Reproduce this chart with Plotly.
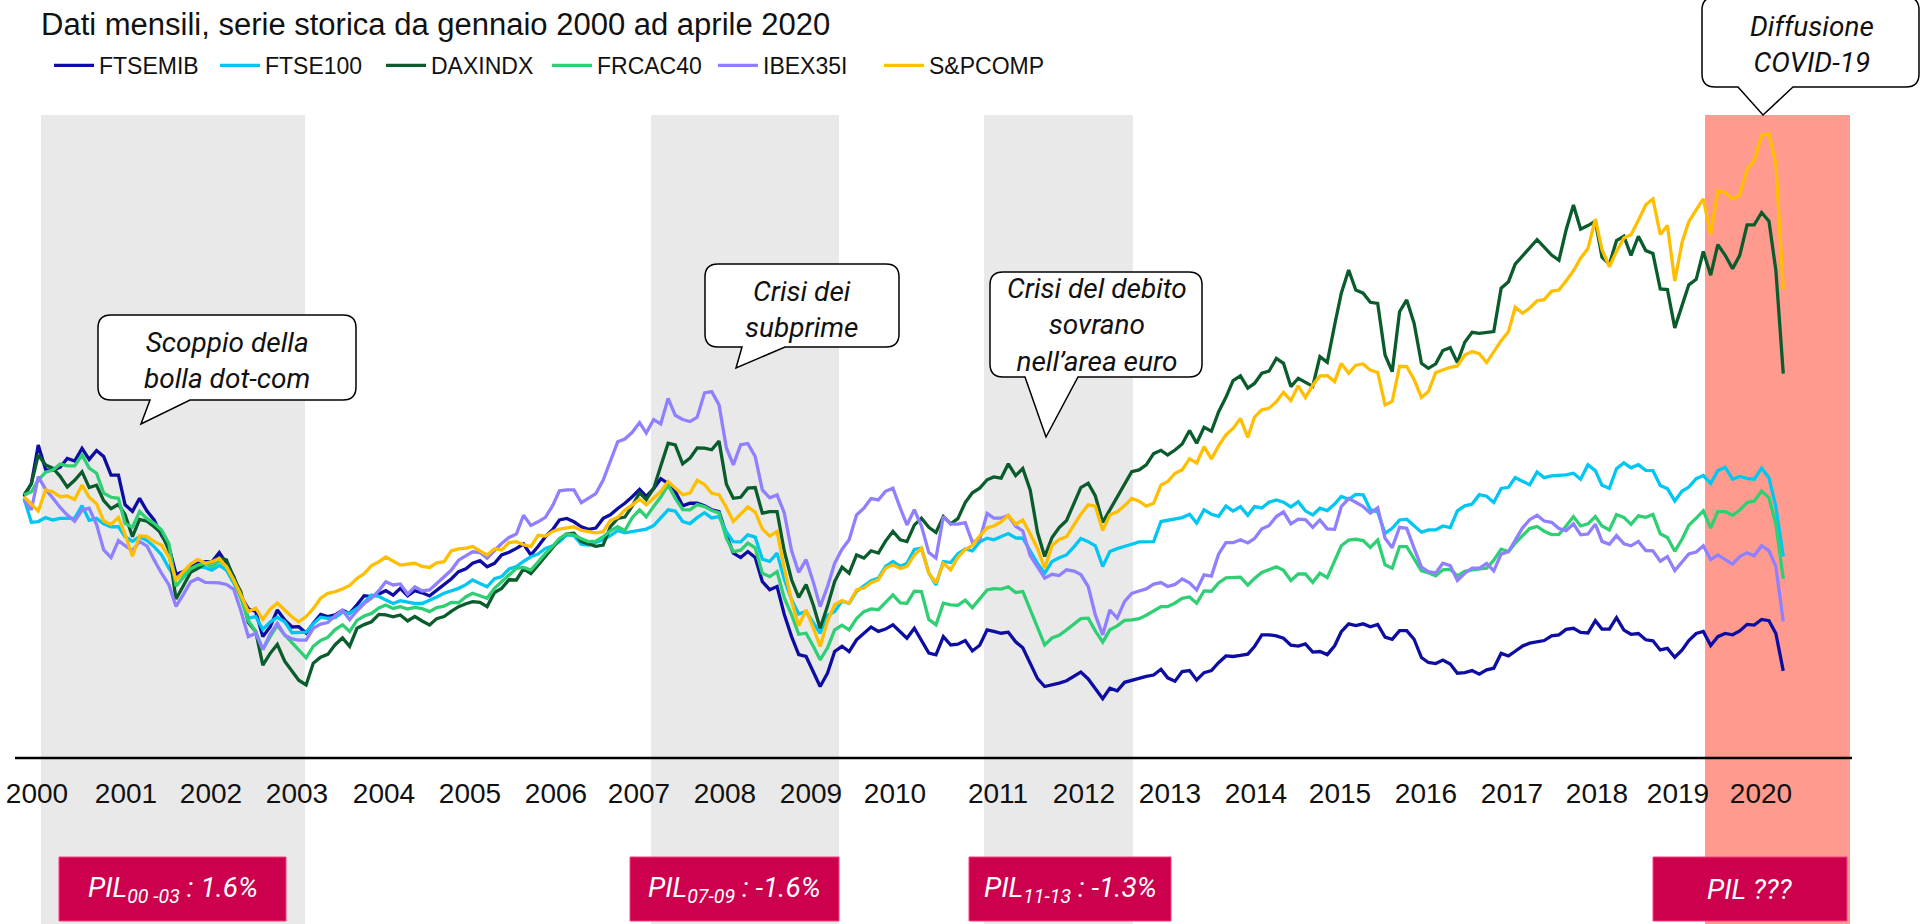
import pandas as pd
import plotly.graph_objects as go

# ---------------- DATA (monthly, index; Jan 2000 ~ 100) ----------------
START, END = "2000-01-01", "2020-04-01"

FTSEMIB = [
    100.1, 105.2, 119.9, 110.5, 110.2, 111.4, 114.8, 113.8, 118.6, 114.4, 117.8, 115.5,
    108.4, 108.4, 97.0, 94.5, 99.5, 94.6, 91.2, 85.4, 81.0, 70.4, 71.4, 73.3,
    74.6, 75.2, 75.2, 78.7, 74.6, 69.5, 61.8, 57.2, 56.1, 46.5, 50.3, 56.7,
    52.9, 50.2, 50.3, 47.9, 51.6, 55.0, 54.2, 54.8, 56.6, 55.4, 58.7, 62.2,
    61.8, 62.8, 64.1, 62.4, 65.0, 62.1, 64.1, 63.3, 62.1, 64.3, 66.7, 68.6,
    71.4, 72.5, 74.6, 75.6, 73.3, 74.6, 77.8, 78.8, 80.3, 82.0, 77.8, 81.0,
    84.8, 87.6, 91.2, 91.8, 90.5, 88.6, 87.6, 88.1, 91.8, 93.2, 95.6, 97.6,
    100.1, 102.9, 100.2, 103.2, 107.0, 105.2, 102.1, 96.6, 97.6, 97.6, 96.6, 95.1,
    94.4, 85.4, 78.5, 76.8, 79.1, 76.8, 67.6, 64.5, 65.7, 55.1, 46.5, 39.6,
    38.9, 33.1, 27.4, 32.5, 40.8, 42.8, 40.8, 45.3, 47.8, 50.2, 48.5, 49.4,
    51.0, 48.5, 45.9, 49.7, 45.3, 40.2, 39.5, 46.5, 43.3, 43.6, 45.0, 41.0,
    43.2, 49.1, 48.5, 47.8, 48.2, 44.5, 42.2, 36.1, 30.4, 27.4, 27.9, 28.7,
    29.6, 31.3, 32.9, 30.3, 26.6, 22.7, 26.7, 25.7, 29.0, 29.8, 30.4, 31.3,
    31.8, 34.0, 30.7, 29.4, 33.1, 33.5, 29.9, 32.7, 33.5, 36.5, 39.1, 38.9,
    39.3, 39.8, 42.7, 47.2, 47.2, 46.8, 45.9, 43.2, 42.9, 43.7, 40.6, 40.8,
    39.6, 43.0, 48.4, 51.4, 50.7, 51.4, 50.3, 51.2, 46.3, 45.5, 48.8, 48.8,
    45.5, 38.5, 36.6, 36.2, 37.5, 36.0, 32.5, 32.7, 33.5, 32.1, 33.8, 34.4,
    40.1, 39.1, 40.9, 42.9, 44.0, 44.6, 45.0, 46.8, 47.2, 49.3, 49.7, 48.1,
    47.9, 52.6, 49.4, 49.4, 53.8, 49.0, 47.4, 47.7, 45.3, 44.9, 41.4, 42.0,
    38.6, 41.4, 45.0, 47.7, 48.5, 43.1, 46.5, 47.7, 47.2, 48.7, 51.2, 50.9,
    53.1, 52.6, 47.7, 33.4,
]

FTSE100 = [
    99.5, 90.3, 90.6, 92.1, 91.2, 91.8, 91.8, 91.8, 96.7, 91.1, 91.8, 89.7,
    88.6, 88.6, 84.8, 83.0, 84.8, 83.3, 81.0, 77.9, 72.7, 68.6, 70.8, 72.3,
    73.3, 72.9, 72.0, 73.8, 72.0, 66.7, 62.2, 53.5, 54.2, 49.3, 52.1, 53.9,
    52.2, 48.0, 48.0, 48.2, 51.4, 53.9, 53.5, 53.8, 55.9, 55.4, 57.3, 59.6,
    62.4, 61.9, 60.5, 59.2, 60.3, 59.6, 59.2, 59.2, 60.3, 61.7, 63.1, 64.0,
    65.0, 66.4, 68.2, 66.9, 65.6, 68.7, 69.5, 72.4, 73.3, 75.3, 77.1, 78.1,
    80.3, 81.3, 82.9, 85.5, 85.2, 81.8, 81.6, 82.6, 83.5, 85.2, 87.1, 86.3,
    86.7, 87.3, 87.7, 89.0, 92.0, 95.1, 94.6, 90.6, 89.8, 92.1, 94.0, 92.0,
    92.5, 86.6, 82.9, 82.8, 85.5, 84.6, 76.2, 75.3, 78.5, 68.6, 60.6, 55.2,
    56.1, 51.6, 47.8, 54.6, 56.1, 60.1, 59.3, 63.8, 65.7, 67.9, 68.9, 73.4,
    75.3, 73.4, 74.6, 79.9, 80.4, 70.9, 66.3, 75.3, 74.9, 78.3, 80.1, 79.4,
    82.8, 84.2, 83.6, 84.8, 86.0, 84.3, 84.2, 79.4, 74.5, 70.8, 75.3, 76.7,
    77.8, 80.9, 84.1, 82.9, 81.3, 73.4, 79.1, 80.2, 80.9, 81.9, 82.8, 82.9,
    82.9, 90.6, 91.0, 91.6, 92.1, 93.4, 90.0, 95.1, 93.4, 92.6, 96.5, 94.6,
    96.3, 93.0, 96.3, 95.8, 98.0, 98.9, 98.0, 96.2, 98.2, 94.7, 93.1, 95.7,
    94.8, 97.3, 100.2, 99.1, 101.0, 100.8, 95.2, 94.3, 86.1, 88.0, 91.2, 91.5,
    89.0, 86.5, 87.4, 87.4, 88.9, 88.3, 94.7, 96.6, 97.3, 100.9, 100.3, 97.9,
    103.3, 103.7, 107.4, 105.9, 104.7, 109.6, 107.4, 108.1, 108.2, 108.5, 109.1, 106.8,
    112.3, 110.1, 104.5, 103.3, 110.8, 113.1, 111.2, 112.4, 110.2, 110.1, 104.4, 103.2,
    98.5, 102.3, 103.8, 107.0, 108.2, 105.2, 110.1, 111.4, 106.8, 107.9, 107.1, 106.8,
    111.1, 107.4, 96.2, 77.2,
]

DAXINDX = [
    100.8, 105.0, 116.1, 112.3, 111.1, 107.9, 103.8, 106.4, 109.7, 103.6, 104.5, 98.6,
    95.5, 97.2, 93.2, 84.8, 91.4, 90.7, 88.6, 86.1, 79.7, 60.9, 66.0, 71.1,
    72.7, 74.6, 75.2, 76.6, 75.9, 69.0, 63.6, 51.9, 48.5, 35.6, 40.1, 43.5,
    37.1, 33.1, 29.8, 28.0, 36.3, 38.6, 39.7, 43.4, 46.0, 42.8, 49.7, 51.1,
    52.2, 55.0, 54.8, 54.1, 54.8, 52.5, 54.2, 52.5, 51.0, 53.4, 54.2, 56.2,
    58.0, 59.1, 59.9, 59.6, 58.0, 63.4, 65.0, 68.3, 68.2, 72.5, 70.7, 73.9,
    77.1, 80.7, 83.8, 85.9, 86.1, 82.9, 82.0, 81.1, 81.6, 88.6, 91.8, 92.3,
    96.5, 101.6, 99.0, 103.2, 111.9, 120.6, 120.0, 112.7, 114.9, 118.8, 118.7, 118.1,
    121.4, 104.9, 99.5, 99.9, 103.4, 103.6, 93.8, 94.4, 94.4, 79.4, 68.3, 61.5,
    66.5, 58.4, 49.7, 58.2, 67.6, 73.1, 70.8, 77.8, 76.6, 79.4, 78.5, 83.1,
    86.8, 83.6, 82.9, 89.2, 91.9, 88.4, 86.4, 92.5, 89.7, 91.7, 97.9, 101.6,
    103.4, 106.6, 107.7, 107.2, 112.7, 108.2, 110.9, 102.7, 86.4, 77.2, 84.5, 88.3,
    91.0, 97.9, 103.6, 105.3, 100.4, 90.3, 95.1, 99.5, 104.8, 109.7, 110.4, 112.3,
    116.6, 117.9, 116.1, 118.0, 120.3, 125.5, 120.6, 126.7, 125.2, 132.6, 138.2, 144.6,
    146.4, 141.7, 143.5, 147.4, 148.2, 153.1, 151.2, 142.3, 145.5, 144.0, 142.4, 153.8,
    151.6, 165.9, 178.1, 187.0, 179.3, 178.1, 174.6, 174.2, 154.4, 148.0, 171.0, 175.5,
    166.6, 151.2, 149.3, 151.0, 156.1, 157.2, 151.5, 159.3, 163.1, 162.7, 163.1, 163.4,
    180.0, 182.5, 189.2, 192.4, 195.4, 198.6, 195.7, 192.7, 190.7, 202.3, 211.9, 202.6,
    204.0, 205.7, 191.9, 189.2, 198.2, 199.9, 192.6, 199.9, 194.4, 193.3, 179.7, 179.5,
    164.8, 173.6, 181.3, 183.4, 194.1, 185.0, 196.7, 192.6, 187.5, 192.6, 204.3, 204.3,
    209.0, 205.7, 186.8, 147.3,
]

FRCAC40 = [
    100.8, 102.0, 106.5, 109.5, 110.3, 112.6, 111.9, 111.9, 116.1, 111.1, 109.1, 101.5,
    99.9, 99.5, 89.9, 88.4, 94.4, 91.7, 89.9, 87.4, 82.2, 65.8, 69.2, 72.5,
    73.9, 74.6, 73.3, 75.6, 73.3, 67.9, 61.2, 52.6, 48.5, 41.6, 46.5, 50.8,
    47.2, 44.1, 41.4, 38.4, 42.8, 45.0, 46.2, 49.2, 51.0, 48.5, 52.7, 54.4,
    55.4, 57.5, 58.6, 57.3, 58.0, 57.1, 57.7, 57.2, 56.1, 57.6, 58.2, 59.6,
    59.5, 61.8, 63.1, 62.2, 61.2, 65.0, 67.5, 70.4, 72.7, 73.0, 72.0, 75.1,
    78.4, 81.2, 84.1, 85.9, 85.4, 84.0, 82.9, 83.1, 84.8, 87.0, 88.6, 87.1,
    92.1, 95.1, 92.4, 96.4, 100.0, 104.6, 99.5, 95.2, 95.1, 97.1, 96.3, 94.8,
    93.9, 84.1, 79.1, 79.6, 82.3, 80.5, 70.8, 69.5, 71.4, 61.4, 54.8, 47.4,
    47.8, 42.7, 37.6, 42.2, 49.1, 50.9, 49.1, 53.4, 56.1, 57.1, 56.8, 59.6,
    62.5, 59.4, 59.3, 63.9, 63.8, 53.1, 51.0, 59.3, 58.7, 58.5, 60.5, 57.6,
    61.1, 64.4, 64.9, 64.7, 65.6, 63.4, 63.8, 56.8, 49.7, 43.3, 46.0, 47.0,
    49.1, 51.3, 53.4, 53.6, 48.7, 44.4, 49.1, 50.6, 52.7, 52.9, 53.4, 54.7,
    56.4, 58.0, 58.0, 59.4, 61.2, 61.7, 59.3, 64.0, 63.9, 67.1, 69.0, 69.3,
    69.3, 66.2, 68.8, 71.1, 72.3, 73.3, 71.9, 68.0, 70.5, 70.5, 67.3, 70.8,
    69.1, 75.3, 81.3, 83.5, 83.8, 83.3, 80.7, 83.5, 74.0, 72.7, 81.0, 81.0,
    76.1, 71.7, 71.0, 69.8, 72.1, 72.3, 69.8, 71.5, 72.1, 72.3, 72.7, 75.8,
    80.0, 79.1, 82.3, 85.2, 87.9, 88.7, 86.9, 85.6, 85.7, 88.9, 92.5, 88.9,
    89.7, 92.5, 88.9, 87.4, 93.3, 92.2, 89.5, 92.8, 92.2, 93.3, 85.9, 84.5,
    79.2, 83.9, 89.2, 91.9, 94.7, 88.1, 94.4, 94.4, 93.0, 95.0, 97.9, 98.4,
    102.3, 99.7, 89.6, 68.7,
]

IBEX35I = [
    98.8, 95.1, 107.8, 102.9, 99.6, 96.0, 93.1, 90.7, 95.0, 95.7, 89.4, 79.7,
    76.8, 83.3, 81.4, 79.4, 83.0, 81.2, 75.9, 70.8, 66.4, 58.1, 62.7, 67.4,
    68.8, 67.3, 67.2, 67.1, 66.5, 64.6, 56.3, 46.5, 47.8, 41.6, 47.5, 51.6,
    47.0, 45.6, 45.2, 45.2, 49.7, 51.3, 51.9, 54.5, 56.6, 53.0, 56.4, 59.2,
    61.2, 64.1, 67.5, 66.3, 66.7, 62.8, 65.6, 64.0, 64.4, 66.9, 69.5, 71.9,
    75.8, 77.5, 79.0, 78.7, 76.5, 79.5, 82.2, 84.5, 85.8, 93.0, 89.1, 90.5,
    92.2, 96.8, 102.4, 102.7, 102.7, 97.8, 99.5, 101.3, 106.5, 113.5, 121.2, 122.2,
    124.8, 128.5, 124.5, 129.7, 128.0, 137.8, 131.3, 129.7, 128.9, 130.6, 139.9, 140.4,
    135.3, 118.8, 112.3, 120.0, 120.5, 115.5, 102.7, 99.7, 100.8, 94.0, 79.4, 71.1,
    76.0, 67.2, 58.0, 65.7, 74.6, 80.0, 83.6, 93.1, 95.7, 99.4, 98.9, 102.2,
    103.4, 95.7, 89.3, 95.1, 88.9, 78.7, 76.6, 92.5, 89.7, 89.6, 90.2, 82.7,
    83.6, 93.7, 91.9, 91.9, 92.9, 88.8, 87.0, 77.6, 73.1, 68.9, 70.4, 69.9,
    72.1, 71.6, 70.3, 65.7, 54.8, 47.2, 56.7, 53.6, 60.0, 63.1, 64.0, 64.8,
    66.6, 67.2, 65.7, 66.5, 68.6, 67.1, 64.4, 70.2, 69.7, 78.1, 82.5, 82.5,
    83.6, 82.4, 84.1, 87.8, 89.0, 92.5, 94.3, 89.7, 91.5, 91.3, 88.4, 91.2,
    87.8, 87.6, 96.3, 99.4, 98.0, 96.3, 93.8, 95.9, 84.2, 80.6, 88.4, 88.0,
    80.4, 73.1, 71.4, 70.9, 74.6, 73.7, 68.0, 70.8, 72.7, 72.7, 74.6, 71.7,
    78.1, 79.1, 83.4, 88.2, 91.3, 93.0, 90.8, 90.3, 87.9, 87.1, 89.7, 85.5,
    85.8, 89.6, 83.0, 81.9, 85.2, 82.1, 81.3, 83.0, 79.5, 79.4, 75.4, 77.2,
    71.8, 75.4, 78.2, 78.9, 81.3, 76.0, 77.8, 76.0, 74.3, 77.2, 78.6, 77.5,
    81.3, 79.5, 73.4, 52.3,
]

SPCOMP = [
    100.1, 97.1, 94.6, 102.7, 102.0, 100.1, 100.4, 99.0, 104.6, 99.9, 97.4, 90.8,
    89.5, 92.2, 85.6, 77.3, 85.1, 84.9, 82.9, 81.6, 77.1, 68.3, 71.4, 74.3,
    76.1, 74.6, 75.2, 76.4, 73.3, 68.2, 62.5, 56.1, 57.4, 53.1, 57.0, 59.4,
    56.7, 54.0, 52.2, 54.2, 57.2, 61.2, 63.1, 63.7, 64.8, 66.1, 68.8, 70.6,
    73.7, 75.2, 77.0, 75.5, 73.9, 74.3, 74.6, 73.4, 73.0, 74.8, 75.2, 79.3,
    80.1, 80.4, 81.0, 79.3, 77.8, 80.2, 79.7, 82.5, 82.9, 81.7, 81.0, 85.3,
    85.0, 86.8, 87.7, 88.2, 88.6, 87.2, 86.7, 86.3, 86.7, 91.0, 92.2, 95.0,
    96.9, 99.2, 97.0, 99.4, 102.1, 105.9, 103.6, 100.9, 101.5, 106.4, 104.8, 101.4,
    100.9, 96.0, 90.6, 93.4, 96.2, 94.2, 87.8, 85.0, 86.8, 72.7, 60.1, 50.6,
    56.8, 49.7, 42.7, 52.5, 58.7, 60.3, 59.3, 64.4, 65.1, 67.2, 68.3, 72.7,
    74.0, 72.6, 73.4, 77.7, 80.4, 70.8, 67.0, 74.6, 72.1, 76.9, 79.9, 81.4,
    85.1, 88.2, 88.9, 90.5, 93.0, 89.6, 91.2, 85.9, 80.2, 72.7, 81.4, 83.7,
    84.8, 89.3, 93.4, 97.0, 96.5, 87.2, 93.1, 94.3, 96.7, 99.5, 98.4, 96.5,
    97.6, 104.6, 105.9, 109.1, 110.4, 114.7, 113.0, 119.3, 114.6, 119.6, 123.8, 126.3,
    130.1, 122.8, 130.6, 133.4, 134.0, 136.5, 140.1, 136.9, 142.6, 138.1, 142.8, 146.4,
    146.5, 144.2, 151.2, 147.4, 150.5, 151.0, 148.6, 147.7, 135.3, 136.6, 150.1, 150.0,
    145.0, 138.1, 140.4, 147.7, 148.6, 149.7, 150.2, 154.4, 155.7, 154.9, 151.5, 155.7,
    159.9, 163.4, 172.7, 170.4, 172.4, 175.2, 175.6, 178.9, 179.3, 182.8, 186.7, 191.5,
    195.2, 206.5, 194.8, 188.2, 194.1, 199.2, 200.5, 206.0, 212.0, 214.2, 200.6, 204.0,
    182.7, 197.7, 205.5, 210.0, 214.2, 200.6, 217.4, 216.7, 214.2, 215.7, 225.5, 228.8,
    238.6, 239.1, 227.7, 179.5,
]

SERIES_NAMES = ["FTSEMIB", "FTSE100", "DAXINDX", "FRCAC40", "IBEX35I", "S&PCOMP"]
SERIES_VALUES = [FTSEMIB, FTSE100, DAXINDX, FRCAC40, IBEX35I, SPCOMP]
SERIES_COLORS = ["#0d0da3", "#00c6f2", "#0b5c2c", "#2fcf74", "#8f80ff", "#ffbf00"]

YEAR_LABELS = [str(y) for y in range(2000, 2021)]

CALLOUTS = [
    "<i>Scoppio della<br>bolla dot-com</i>",
    "<i>Crisi dei<br>subprime</i>",
    "<i>Crisi del debito<br>sovrano<br>nell\u2019area euro</i>",
    "<i>Diffusione<br>COVID-19</i>",
]
GDP_LABELS = [
    "<i>PIL<sub>00 -03</sub> : 1.6%</i>",
    "<i>PIL<sub>07-09</sub> : -1.6%</i>",
    "<i>PIL<sub>11-13</sub> : -1.3%</i>",
    "<i>PIL ???</i>",
]
SUBTITLE = "Dati mensili, serie storica da gennaio 2000 ad aprile 2020"

# ---------------- LAYOUT GEOMETRY ----------------
W, H = 1923, 924
dates = pd.date_range(START, END, freq="MS")
t0 = pd.Timestamp(START)
X0_PX = 24.0
PX_PER_DAY = 7.24 / 30.4375
AXIS_PX = 758.0
PX_PER_UNIT = 2.61

SANS = "Liberation Sans, Arial, sans-serif"
ITAL = "Roboto, Liberation Sans, sans-serif"


def px_date(px):
    return t0 + pd.Timedelta(days=(px - X0_PX) / PX_PER_DAY)


def pxx(px):
    return px / W


def pxy(py):
    return 1 - py / H


x_range = [px_date(0), px_date(W)]
y_range = [-(H - AXIS_PX) / PX_PER_UNIT, AXIS_PX / PX_PER_UNIT]

year_label_px = [37, 126, 211, 297, 384, 470, 556, 639, 725, 811, 895,
                 998, 1084, 1170, 1256, 1340, 1426, 1512, 1597, 1678, 1761]
tick_dates = [px_date(p) for p in year_label_px]

bands_px = [(41, 305, "#e9e9e9"), (651, 839, "#e9e9e9"), (984, 1133, "#e9e9e9"), (1705, 1850, "#ff9b8e")]

fig = go.Figure()
for name, vals, col in zip(SERIES_NAMES, SERIES_VALUES, SERIES_COLORS):
    fig.add_trace(go.Scatter(x=dates, y=vals, name=name, mode="lines",
                             line=dict(color=col, width=3.3)))

shapes = []
for a, b, col in bands_px:
    shapes.append(dict(type="rect", xref="x", yref="paper", x0=px_date(a), x1=px_date(b),
                       y0=0, y1=pxy(115), fillcolor=col, line=dict(width=0), layer="below"))
# axis line
shapes.append(dict(type="line", xref="paper", yref="y", x0=pxx(15), x1=pxx(1852), y0=0, y1=0,
                   line=dict(color="black", width=2.5), layer="above"))


def bubble(x0, y0, x1, y1, ta, tb, tip, r=13):
    def P(x, y):
        return f"{pxx(x):.5f},{pxy(y):.5f}"
    p = f"M{P(x0 + r, y0)} L{P(x1 - r, y0)} Q{P(x1, y0)} {P(x1, y0 + r)} "
    p += f"L{P(x1, y1 - r)} Q{P(x1, y1)} {P(x1 - r, y1)} "
    p += f"L{P(tb, y1)} L{P(tip[0], tip[1])} L{P(ta, y1)} "
    p += f"L{P(x0 + r, y1)} Q{P(x0, y1)} {P(x0, y1 - r)} "
    p += f"L{P(x0, y0 + r)} Q{P(x0, y0)} {P(x0 + r, y0)} Z"
    return p


bubbles = [
    (98, 315, 356, 400, 150, 190, (141, 424), (227, 360)),
    (705, 264, 899, 347, 742, 785, (736, 368), (802, 309)),
    (990, 272, 1202, 377, 1025, 1078, (1046, 437), (1097, 325)),
    (1702, -3, 1919, 87, 1738, 1793, (1763, 115), (1812, 45)),
]
annotations = []
for (x0, y0, x1, y1, ta, tb, tip, ctr), txt in zip(bubbles, CALLOUTS):
    shapes.append(dict(type="path", xref="paper", yref="paper", path=bubble(x0, y0, x1, y1, ta, tb, tip),
                       fillcolor="white", line=dict(color="black", width=1.5), layer="above"))
    annotations.append(dict(x=pxx(ctr[0]), y=pxy(ctr[1]), xref="paper", yref="paper", text=txt,
                            showarrow=False, xanchor="center", yanchor="middle", align="center",
                            font=dict(family=ITAL, size=28, color="#111111")))

boxes = [(59, 286), (630, 839), (969, 1171), (1653, 1847)]
for (a, b), txt in zip(boxes, GDP_LABELS):
    shapes.append(dict(type="rect", xref="paper", yref="paper", x0=pxx(a), x1=pxx(b), y0=pxy(921), y1=pxy(857),
                       fillcolor="#cc004c", line=dict(color="#ff3d80", width=1), layer="above"))
    annotations.append(dict(x=pxx((a + b) / 2), y=pxy(889), xref="paper", yref="paper", text=txt,
                            showarrow=False, xanchor="center", yanchor="middle",
                            font=dict(family=ITAL, size=28, color="white")))

annotations.append(dict(x=pxx(39), y=pxy(24), xref="paper", yref="paper", text=SUBTITLE, showarrow=False,
                        xanchor="left", yanchor="middle",
                        font=dict(family=SANS, size=31, color="#111111")))

fig.update_layout(
    width=W, height=H, autosize=False,
    margin=dict(l=0, r=0, t=0, b=0),
    paper_bgcolor="white", plot_bgcolor="rgba(0,0,0,0)",
    shapes=shapes, annotations=annotations,
    showlegend=True,
    legend=dict(orientation="h", x=pxx(49), y=pxy(44), xanchor="left", yanchor="top",
                font=dict(family=SANS, size=23, color="#111111"),
                bgcolor="rgba(0,0,0,0)", traceorder="normal", itemwidth=40,
                entrywidth=111, entrywidthmode="pixels"),
    xaxis=dict(type="date", range=x_range, showgrid=False, zeroline=False, showline=False,
               tickvals=tick_dates, ticktext=YEAR_LABELS, ticks="",
               tickfont=dict(family=SANS, size=28, color="#111111"),
               anchor="free", position=(H - AXIS_PX) / H, ticklabelstandoff=16, fixedrange=True),
    yaxis=dict(range=y_range, visible=False, fixedrange=True),
    hovermode=False,
)

fig.write_html("out.html", config={"displayModeBar": False, "staticPlot": True},
               post_script="document.body.style.margin='0';document.body.style.overflow='hidden';")
